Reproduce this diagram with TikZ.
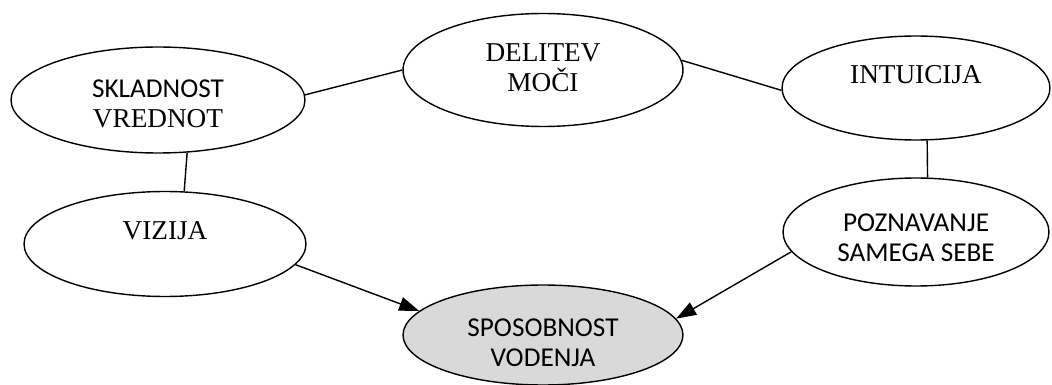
\documentclass[tikz,border=0pt]{standalone}
\usepackage{fontspec}
\setmainfont{Liberation Serif}
\newfontfamily\carlito{Carlito}
\usetikzlibrary{shapes.geometric,arrows.meta}
\definecolor{sivo}{RGB}{217,217,217}

\begin{document}
\begin{tikzpicture}[x=0.02cm,y=-0.02cm,
  oval/.style={draw,ellipse,line width=0.8pt,inner sep=0pt,align=center,
    font=\fontsize{15.5}{17.5}\selectfont},
  sans/.style={font=\carlito\fontsize{15.5}{17.5}\selectfont},
  vrh/.style={text height=0pt,text depth=#1},
  niz/.style={text height=#1,text depth=0pt},
  crta/.style={line width=0.8pt},
  puscica/.style={line width=0.8pt,-{Triangle[length=0.4cm,width=0.28cm]}}]
\useasboundingbox (0,0) rectangle (1052,385);

%% elipse (x , y v pikslih)
\node[oval,niz=1.12cm,minimum width=5.88cm,minimum height=2.12cm] (sklad) at (158,100)
  {{\carlito SKLADNOST}\\VREDNOT};
\node[oval,niz=0.88cm,minimum width=5.6cm,minimum height=2.26cm] (delitev) at (543,70)
  {DELITEV\\MOČI};
\node[oval,vrh=4.6pt,minimum width=5.36cm,minimum height=2.08cm] (intu) at (916,88)
  {INTUICIJA};
\node[oval,vrh=4.6pt,minimum width=5.64cm,minimum height=2.1cm] (vizija) at (165,244)
  {VIZIJA};
\node[oval,sans,niz=1.2cm,minimum width=5.32cm,minimum height=2.16cm] (pozn) at (916,232)
  {POZNAVANJE\\SAMEGA SEBE};
\node[oval,sans,niz=1.28cm,fill=sivo,minimum width=5.6cm,minimum height=2.0cm] (sposob) at (543,335)
  {SPOSOBNOST\\VODENJA};

%% povezave
\draw[crta] (sklad.2) -- (delitev.180);
\draw[crta] (delitev.4) -- (intu.181);
\draw[crta] (sklad.-61) -- (vizija.70);
\draw[crta] (intu.-78) -- (pozn.78);

%% puscice proti sredini
\draw[puscica] (vizija.-9) -- (sposob.169);
\draw[puscica] (pozn.189) -- (sposob.7);
\end{tikzpicture}
\end{document}
